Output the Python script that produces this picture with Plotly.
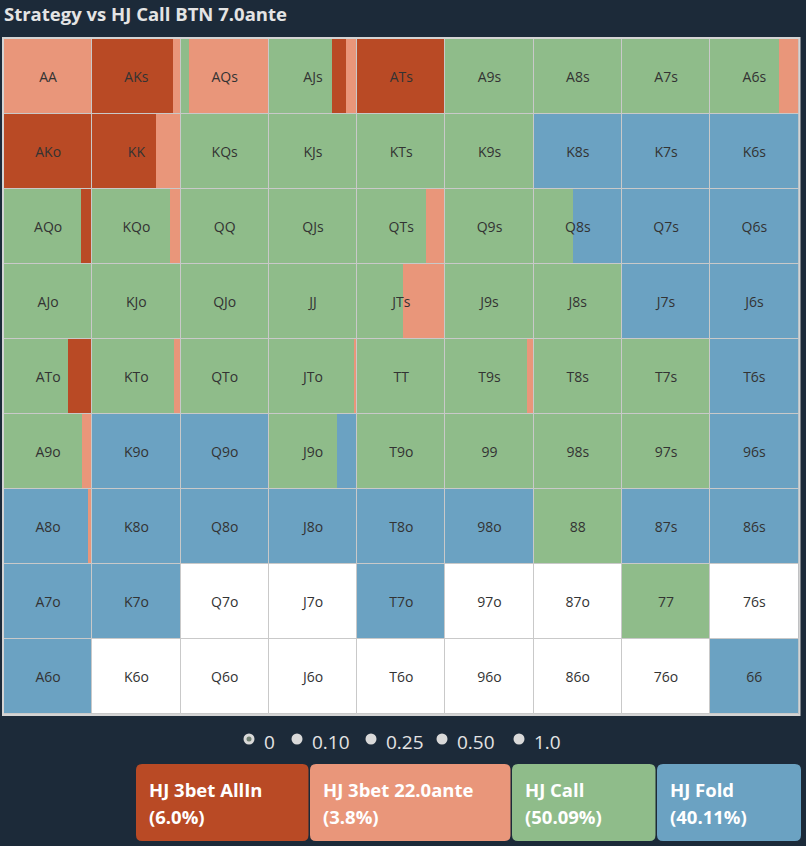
import plotly.graph_objects as go

W, H = 806, 846

# ---------------- data ----------------
HANDS = [
    ["AA", "AKs", "AQs", "AJs", "ATs", "A9s", "A8s", "A7s", "A6s"],
    ["AKo", "KK", "KQs", "KJs", "KTs", "K9s", "K8s", "K7s", "K6s"],
    ["AQo", "KQo", "QQ", "QJs", "QTs", "Q9s", "Q8s", "Q7s", "Q6s"],
    ["AJo", "KJo", "QJo", "JJ", "JTs", "J9s", "J8s", "J7s", "J6s"],
    ["ATo", "KTo", "QTo", "JTo", "TT", "T9s", "T8s", "T7s", "T6s"],
    ["A9o", "K9o", "Q9o", "J9o", "T9o", "99", "98s", "97s", "96s"],
    ["A8o", "K8o", "Q8o", "J8o", "T8o", "98o", "88", "87s", "86s"],
    ["A7o", "K7o", "Q7o", "J7o", "T7o", "97o", "87o", "77", "76s"],
    ["A6o", "K6o", "Q6o", "J6o", "T6o", "96o", "86o", "76o", "66"],
]

ALLIN = [
    [0, 0.91, 0, 0.15, 1, 0, 0, 0, 0],
    [1, 0.72, 0, 0, 0, 0, 0, 0, 0],
    [0.13, 0, 0, 0, 0, 0, 0, 0, 0],
    [0, 0, 0, 0, 0, 0, 0, 0, 0],
    [0.28, 0, 0, 0, 0, 0, 0, 0, 0],
    [0, 0, 0, 0, 0, 0, 0, 0, 0],
    [0, 0, 0, 0, 0, 0, 0, 0, 0],
    [0, 0, 0, 0, 0, 0, 0, 0, 0],
    [0, 0, 0, 0, 0, 0, 0, 0, 0],
]
THREEBET = [
    [1, 0.09, 0.90, 0.13, 0, 0, 0, 0, 0.22],
    [0, 0.28, 0, 0, 0, 0, 0, 0, 0],
    [0, 0.12, 0, 0, 0.22, 0, 0, 0, 0],
    [0, 0, 0, 0, 0.48, 0, 0, 0, 0],
    [0, 0.07, 0, 0.04, 0, 0.08, 0, 0, 0],
    [0.12, 0, 0, 0, 0, 0, 0, 0, 0],
    [0.05, 0, 0, 0, 0, 0, 0, 0, 0],
    [0, 0, 0, 0, 0, 0, 0, 0, 0],
    [0, 0, 0, 0, 0, 0, 0, 0, 0],
]
CALL = [
    [0, 0, 0.10, 0.72, 0, 1, 1, 1, 0.78],
    [0, 0, 1, 1, 1, 1, 0, 0, 0],
    [0.87, 0.88, 1, 1, 0.78, 1, 0.45, 0, 0],
    [1, 1, 1, 1, 0.52, 1, 1, 0, 0],
    [0.72, 0.93, 1, 0.96, 1, 0.92, 1, 1, 0],
    [0.88, 0, 0, 0.77, 1, 1, 1, 1, 0],
    [0, 0, 0, 0, 0, 0, 1, 0, 0],
    [0, 0, 0, 0, 0, 0, 0, 1, 0],
    [0, 0, 0, 0, 0, 0, 0, 0, 0],
]
FOLD = [
    [0, 0, 0, 0, 0, 0, 0, 0, 0],
    [0, 0, 0, 0, 0, 0, 1, 1, 1],
    [0, 0, 0, 0, 0, 0, 0.55, 1, 1],
    [0, 0, 0, 0, 0, 0, 0, 1, 1],
    [0, 0, 0, 0, 0, 0, 0, 0, 1],
    [0, 1, 1, 0.23, 0, 0, 0, 0, 1],
    [0.95, 1, 1, 1, 1, 1, 0, 1, 1],
    [1, 1, 0, 0, 1, 0, 0, 0, 0],
    [1, 0, 0, 0, 0, 0, 0, 0, 1],
]

ACTIONS = ["allin", "threebet", "call", "fold"]
ACTION_NAMES = ["HJ 3bet AllIn", "HJ 3bet 22.0ante", "HJ Call", "HJ Fold"]
ACTION_PCT = ["(6.0%)", "(3.8%)", "(50.09%)", "(40.11%)"]
COLORS = {"allin": "#b94a25", "threebet": "#e9967a", "call": "#8fbc8a", "fold": "#6ba2c2"}
FREQ = {"allin": ALLIN, "threebet": THREEBET, "call": CALL, "fold": FOLD}
DEFAULT_ORDER = ["call", "allin", "threebet", "fold"]
ORDER_OVERRIDE = {"A8o": ["fold", "threebet", "call", "allin"]}

RADIO_LABELS = ["0", "0.10", "0.25", "0.50", "1.0"]

BG = "#1c2a39"
FONT = "Open Sans, sans-serif"

# ---------------- build segments ----------------
seg = {a: {"x": [], "base": [], "y": [], "hand": []} for a in ACTIONS}
for r in range(9):
    for c in range(9):
        hand = HANDS[r][c]
        order = ORDER_OVERRIDE.get(hand, DEFAULT_ORDER)
        off = 0.0
        for a in order:
            v = FREQ[a][r][c]
            if v > 0:
                seg[a]["x"].append(v)
                seg[a]["base"].append(c + off)
                seg[a]["y"].append(r)
                seg[a]["hand"].append(hand)
                off += v

cells_y = [r for r in range(9) for c in range(9)]
cells_base = [c for r in range(9) for c in range(9)]
cells_x = [1] * 81

fig = go.Figure()

# white background cells
fig.add_trace(go.Bar(
    orientation="h", x=cells_x, base=cells_base, y=cells_y, width=1,
    marker=dict(color="white", line=dict(width=0)), hoverinfo="skip", showlegend=False))

for a, name in zip(ACTIONS, ACTION_NAMES):
    s = seg[a]
    fig.add_trace(go.Bar(
        orientation="h", x=s["x"], base=s["base"], y=s["y"], width=1,
        marker=dict(color=COLORS[a], line=dict(width=0)),
        name=name, customdata=s["hand"],
        hovertemplate="%{customdata}: %{x:.2f}<extra>" + name + "</extra>",
        showlegend=False))

# cell outlines
fig.add_trace(go.Bar(
    orientation="h", x=cells_x, base=cells_base, y=cells_y, width=1,
    marker=dict(color="rgba(0,0,0,0)", line=dict(width=1, color="#c9c9c9")),
    hoverinfo="skip", showlegend=False))

# hand labels
fig.add_trace(go.Scatter(
    x=[c + 0.5 for r in range(9) for c in range(9)],
    y=[r + 0.02 for r in range(9) for c in range(9)],
    text=[HANDS[r][c] for r in range(9) for c in range(9)],
    mode="text", textfont=dict(size=14, color="#333333", family=FONT),
    hoverinfo="skip", showlegend=False))


def X(px):
    return px / W


def Y(py):
    return 1 - py / H


GX0, GX1, GY0, GY1 = 4, 798.5, 39, 714

shapes = []
annotations = []

# outer grid border
shapes.append(dict(type="rect", xref="paper", yref="paper",
                   x0=X(GX0 - 1), x1=X(GX1 + 1), y0=Y(GY1 + 1), y1=Y(GY0 - 1),
                   line=dict(color="#d4d4d4", width=2), layer="above"))

# title
annotations.append(dict(text="Strategy vs HJ Call BTN 7.0ante", xref="paper", yref="paper",
                        x=X(3), y=Y(0), xanchor="left", yanchor="top", showarrow=False,
                        borderpad=0,
                        font=dict(size=18.5, color="#e4e4e4", family=FONT, weight="bold")))

# radio buttons
radio_cx = [249, 297, 371, 442, 519]
radio_tx = [262, 310, 384, 455, 532]
for i, (lab, cx, tx) in enumerate(zip(RADIO_LABELS, radio_cx, radio_tx)):
    shapes.append(dict(type="circle", xref="paper", yref="paper",
                       xsizemode="pixel", ysizemode="pixel",
                       xanchor=X(cx), yanchor=Y(739), x0=-5.5, x1=5.5, y0=-5.5, y1=5.5,
                       fillcolor="#d9d9d9", line=dict(width=0)))
    if i == 0:
        shapes.append(dict(type="circle", xref="paper", yref="paper",
                           xsizemode="pixel", ysizemode="pixel",
                           xanchor=X(cx), yanchor=Y(739), x0=-2.5, x1=2.5, y0=-2.5, y1=2.5,
                           fillcolor="#6f7f72", line=dict(width=0)))
    annotations.append(dict(text=lab, xref="paper", yref="paper", x=X(tx), y=Y(741.5),
                            xanchor="left", yanchor="middle", showarrow=False,
                            font=dict(size=19, color="#e4e4e4", family=FONT)))

# legend boxes
box_x = [(136, 308.5), (310, 510.5), (512, 655.5), (657, 801)]
by0, by1 = 764, 841
rr = 6
for a, name, pct, (bx0, bx1) in zip(ACTIONS, ACTION_NAMES, ACTION_PCT, box_x):
    rx, ry = rr / W, rr / H
    x0, x1, yt, yb = X(bx0), X(bx1), Y(by0), Y(by1)
    path = (f"M {x0+rx},{yt} L {x1-rx},{yt} Q {x1},{yt} {x1},{yt-ry} "
            f"L {x1},{yb+ry} Q {x1},{yb} {x1-rx},{yb} L {x0+rx},{yb} "
            f"Q {x0},{yb} {x0},{yb+ry} L {x0},{yt-ry} Q {x0},{yt} {x0+rx},{yt} Z")
    shapes.append(dict(type="path", xref="paper", yref="paper", path=path,
                       fillcolor=COLORS[a], line=dict(width=0)))
    annotations.append(dict(text=name, xref="paper", yref="paper", x=X(bx0 + 11), y=Y(789),
                            xanchor="left", yanchor="middle", showarrow=False,
                            font=dict(size=18.5, color="white", family=FONT, weight="bold")))
    annotations.append(dict(text=pct, xref="paper", yref="paper", x=X(bx0 + 11), y=Y(816.5),
                            xanchor="left", yanchor="middle", showarrow=False,
                            font=dict(size=18.5, color="white", family=FONT, weight="bold")))

fig.update_layout(
    width=W, height=H,
    margin=dict(l=0, r=0, t=0, b=0),
    paper_bgcolor=BG, plot_bgcolor=BG,
    barmode="overlay", bargap=0,
    xaxis=dict(domain=[X(GX0), X(GX1)], range=[0, 9], showgrid=False, zeroline=False,
               showticklabels=False, fixedrange=True),
    yaxis=dict(domain=[Y(GY1), Y(GY0)], range=[8.5, -0.5], showgrid=False, zeroline=False,
               showticklabels=False, fixedrange=True),
    shapes=shapes, annotations=annotations,
    showlegend=False,
)

fig.write_html("out.html", config={"displayModeBar": False},
               post_script="document.body.style.margin='0';document.body.style.overflow='hidden';")
